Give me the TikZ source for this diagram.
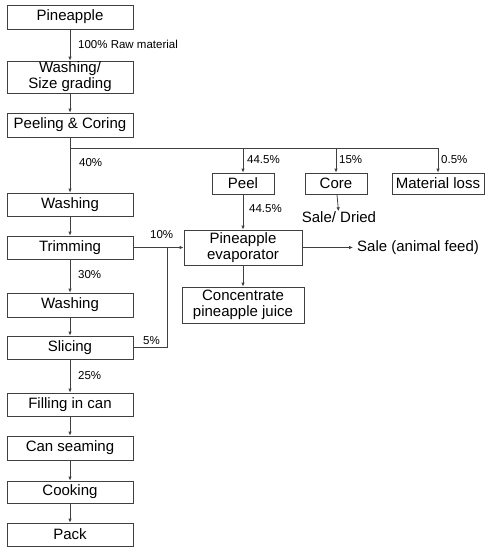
\documentclass[tikz,border=0pt]{standalone}
\usepackage{fontspec}
\setmainfont{Liberation Sans}
\usetikzlibrary{arrows.meta}
\begin{document}
\begin{tikzpicture}[x=1pt,y=-1pt,
  box/.style={draw=black!75,line width=0.8pt,minimum width=126pt,inner sep=0pt,font=\fontsize{15}{16}\selectfont,align=center},
  lab/.style={font=\fontsize{11.5}{13}\selectfont,anchor=west,inner sep=0pt},
  free/.style={font=\fontsize{15}{16}\selectfont,inner sep=0pt},
  conn/.style={draw=black!75,line width=0.8pt},
  arr/.style={conn,-{Latex[length=4pt,width=3.5pt]}}]
\useasboundingbox (0,0) rectangle (489,550);
\node[box,minimum height=24pt] (pine) at (70,17) {Pineapple};
\node[box,minimum height=32pt] (wsg) at (70,77) {Washing/\\Size grading};
\node[box,minimum height=24pt] (pc) at (70,125) {Peeling \& Coring};
\node[box,minimum height=23pt] (w1) at (70,204.5) {Washing};
\node[box,minimum height=23pt] (trim) at (70,247.5) {Trimming};
\node[box,minimum height=24pt] (w2) at (70,305) {Washing};
\node[box,minimum height=23pt] (slice) at (70,347.5) {Slicing};
\node[box,minimum height=23pt] (fill) at (70,404.5) {Filling in can};
\node[box,minimum height=24pt] (seam) at (70,448) {Can seaming};
\node[box,minimum height=22pt] (cook) at (70,492) {Cooking};
\node[box,minimum height=23pt] (pack) at (70,534.5) {Pack};

\node[box,minimum width=62pt,minimum height=21pt] (peel) at (243,183.5) {Peel};
\node[box,minimum width=62pt,minimum height=21pt] (core) at (336,183.5) {Core};
\node[box,minimum width=92pt,minimum height=21pt] (loss) at (438,183.5) {Material loss};
\node[box,minimum width=118pt,minimum height=35pt] (evap) at (243,247.5) {Pineapple\\evaporator};
\node[box,minimum width=122pt,minimum height=36pt] (conc) at (243,305) {Concentrate\\pineapple juice};
\node[free] (dried) at (339,217) {Sale/ Dried};
\node[free,anchor=west] (feed) at (357,247.5) {Sale (animal feed)};

\coordinate (br) at (70,148);
\coordinate (brE) at (438,148);
\coordinate (j) at (167,247.5);

\draw[arr] (pine) -- (wsg);
\draw[arr] (wsg) -- (pc);
\draw[arr] (pc) -- (w1);
\draw[conn] (br) -- (brE);
\draw[arr] (peel.north |- br) -- (peel);
\draw[arr] (core.north |- br) -- (core);
\draw[arr] (brE) -- (loss);
\draw[arr] (w1) -- (trim);
\draw[arr] (trim) -- (w2);
\draw[arr] (w2) -- (slice);
\draw[arr] (slice) -- (fill);
\draw[arr] (fill) -- (seam);
\draw[arr] (seam) -- (cook);
\draw[arr] (cook) -- (pack);
\draw[arr] (trim) -- (evap);
\draw[conn] (slice.east) -| (j);
\draw[arr] (peel) -- (evap);
\draw[arr] (evap) -- (conc);
\draw[arr] (core) -- (dried);
\draw[arr] (evap) -- ([xshift=-4pt]feed.west);

\node[lab] at (78,44) {100\% Raw material};
\node[lab] at (79,163) {40\%};
\node[lab] at (247,160) {44.5\%};
\node[lab] at (339,160) {15\%};
\node[lab] at (441,160) {0.5\%};
\node[lab] at (249,209) {44.5\%};
\node[lab] at (150,235) {10\%};
\node[lab] at (78,275) {30\%};
\node[lab] at (143,341) {5\%};
\node[lab] at (78,376) {25\%};
\end{tikzpicture}
\end{document}
